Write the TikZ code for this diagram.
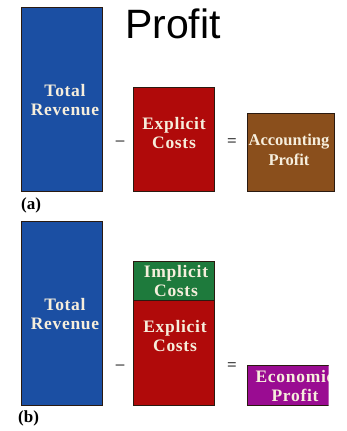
\documentclass[tikz,border=0pt]{standalone}
\usepackage{fontspec}
\setmainfont{Liberation Serif}
\newfontfamily\titlefont{Liberation Sans}
\newfontfamily\spaced[LetterSpace=4]{Liberation Serif}
\definecolor{tblue}{HTML}{1B4FA3}
\definecolor{tred}{HTML}{B00A0A}
\definecolor{tbrown}{HTML}{8A4F1C}
\definecolor{tgreen}{HTML}{1E7A3C}
\definecolor{tpurple}{HTML}{9A0C92}
\definecolor{ttext}{HTML}{F6EEDC}
\definecolor{tedge}{HTML}{2A1A10}
\begin{document}
\begin{tikzpicture}[x=1pt,y=-1pt,
  bar/.style={draw=tedge,line width=0.8pt},
  lbl/.style={text=ttext,font=\spaced\bfseries\fontsize{17.5}{19.5}\selectfont,align=center,inner sep=0pt},
  lblplain/.style={text=ttext,font=\bfseries\fontsize{16.5}{19.5}\selectfont,align=center,inner sep=0pt},
  op/.style={text=black!75,font=\bfseries\fontsize{17}{19}\selectfont,inner sep=0pt},
  tag/.style={font=\bfseries\fontsize{17}{19}\selectfont,inner sep=0pt,anchor=base west}]
\useasboundingbox (0,0) rectangle (347,431);
% title
\node[font=\titlefont\fontsize{41}{44}\selectfont,anchor=base west,inner sep=0pt] (title) at (125,38) {Profit};
% (a)
\fill[tblue,bar] (21,7) rectangle (102,191);
\node[lbl] (tra) at (65,100) {Total\\Revenue};
\fill[tred,bar] (133,87) rectangle (214,191);
\node[lbl] (eca) at (174,133) {Explicit\\Costs};
\fill[tbrown,bar] (247,113) rectangle (334,191);
\node[lblplain] (apa) at (289,150) {Accounting\\Profit};
\node[op] (mina) at (120,143) {–};
\node[op] (eqa) at (232,143) {=};
\node[tag] (taga) at (21,209) {(a)};
% (b)
\fill[tblue,bar] (21,221) rectangle (102,405);
\node[lbl] (trb) at (65,314) {Total\\Revenue};
\fill[tgreen,bar] (133,261) rectangle (214,300);
\node[lbl] (icb) at (176,281) {Implicit\\Costs};
\fill[tred,bar] (133,300) rectangle (214,405);
\node[lbl] (ecb) at (175,336) {Explicit\\Costs};
\begin{scope}
\clip (246,360) rectangle (328.5,410);
\fill[tpurple,bar] (247,365) rectangle (329,405);
\node[lbl] (epb) at (295,386) {Economic\\Profit};
\end{scope}
\node[op] (minb) at (120,367) {–};
\node[op] (eqb) at (232,367) {=};
\node[tag] (tagb) at (18,422) {(b)};
\end{tikzpicture}
\end{document}
